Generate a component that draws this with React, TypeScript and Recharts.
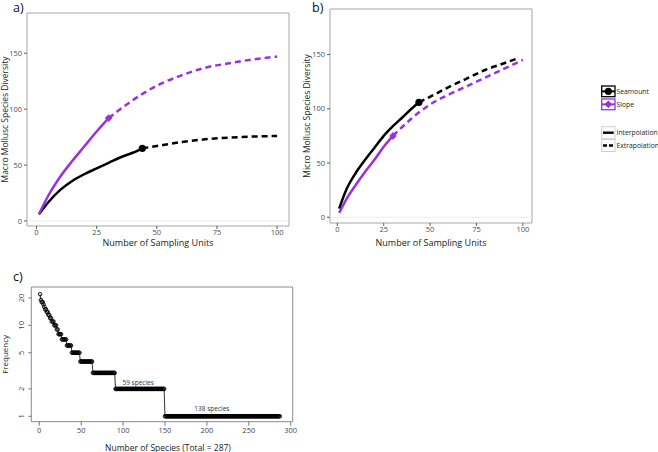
import React from "react";
import {
  ComposedChart,
  Line,
  Scatter,
  XAxis,
  YAxis,
  ReferenceArea,
  ReferenceLine,
  ReferenceDot,
  Label,
  Legend,
} from "recharts";

const FONT = "'Open Sans', 'DejaVu Sans', sans-serif";
const BLACK = "#000000";
const PURPLE = "#9a32dc";

// ---- Panel a: macro molluscs (sampling units, species) ----
const macroSeamountInterp = [[1, 6], [5, 17], [10, 28], [15, 36], [20, 42], [25, 47], [30, 52], [35, 57], [40, 61], [44, 65]];
const macroSeamountExtrap = [[44, 65], [50, 67], [60, 70.5], [70, 73], [80, 74.5], [90, 75.5], [100, 76]];
const macroSlopeInterp = [[1, 6], [5, 23], [10, 40], [15, 54], [20, 67], [25, 80], [30, 92]];
const macroSlopeExtrap = [[30, 92], [40, 108], [50, 121], [60, 130], [70, 137], [80, 141], [90, 144.5], [100, 147]];

// ---- Panel b: micro molluscs ----
const microSeamountInterp = [[1, 8], [5, 26], [10, 41], [15, 53], [20, 64], [25, 75], [30, 84], [35, 92], [40, 100], [44, 106]];
const microSeamountExtrap = [[44, 106], [50, 111], [60, 120], [70, 128], [80, 136], [90, 142], [98, 147]];
const microSlopeInterp = [[1, 4], [5, 17], [10, 30], [15, 42], [20, 53], [25, 65], [30, 75]];
const microSlopeExtrap = [[30, 75], [40, 91], [50, 104], [60, 113], [70, 121], [80, 129], [90, 137], [100, 145]];

const samplingTicks = [0, 25, 50, 75, 100];
const diversityTicks = [0, 50, 100, 150];
const legendSites = ["Seamount", "Slope"];
const legendMethods = ["Interpolation", "Extrapolation"];

// ---- Panel c: rank-frequency ----
const topRankFrequencies = [22, 19, 18, 18, 17, 16, 15, 15, 14, 14, 13, 13, 12, 12, 11, 11, 11, 10, 10, 10, 9, 9];
const stepFrequencies = [8, 7, 6, 5, 4, 3, 2, 1];
const stepSpeciesCounts = [4, 6, 6, 10, 15, 27, 59, 138];
const speciesTicks = [0, 50, 100, 150, 200, 250, 300];
const frequencyTicks = [1, 2, 5, 10, 20];
const noteLabels = ["59 species", "138 species"];
const noteSpecies = [118, 206];
const noteFrequency = [2, 1];

const toPts = (arr: number[][]) => arr.map(([x, y]) => ({ x, y }));
const lastPt = (arr: number[][]) => toPts([arr[arr.length - 1]]);

const rankData = [
  ...topRankFrequencies,
  ...stepFrequencies.flatMap((f, i) => Array(stepSpeciesCounts[i]).fill(f)),
].map((freq, i) => ({ rank: i + 1, freq }));

const CircleMarker = (p: any) => <circle cx={p.cx} cy={p.cy} r={3.6} fill={BLACK} />;
const DiamondMarker = (p: any) => {
  const s = 3.8;
  return (
    <polygon
      points={`${p.cx},${p.cy - s} ${p.cx + s},${p.cy} ${p.cx},${p.cy + s} ${p.cx - s},${p.cy}`}
      fill={PURPLE}
    />
  );
};

function CurveLegend() {
  const colors = [BLACK, PURPLE];
  return (
    <svg width={60} height={72} style={{ display: "block", overflow: "visible", fontFamily: FONT }}>
      {legendSites.map((name, i) => {
        const y0 = 2 + i * 13;
        return (
          <g key={name}>
            <rect x={3.7} y={y0} width={13.3} height={10.7} fill="#ffffff" stroke={colors[i]} strokeWidth={1.3} />
            <line x1={3.7} x2={17} y1={y0 + 5.35} y2={y0 + 5.35} stroke={colors[i]} strokeWidth={2} />
            {i === 0 ? (
              <CircleMarker cx={10.35} cy={y0 + 5.35} />
            ) : (
              <DiamondMarker cx={10.35} cy={y0 + 5.35} />
            )}
            <text x={18.5} y={y0 + 5.35} dy="0.35em" fontSize={6.8} fill="#222">
              {name}
            </text>
          </g>
        );
      })}
      {legendMethods.map((name, i) => {
        const y0 = 42.7 + i * 12.8;
        return (
          <g key={name}>
            <rect x={3.7} y={y0} width={13.3} height={12} fill="#ffffff" stroke="#d0d0d0" strokeWidth={1} />
            <line
              x1={5}
              x2={15.7}
              y1={y0 + 6}
              y2={y0 + 6}
              stroke={BLACK}
              strokeWidth={2.4}
              strokeDasharray={i === 1 ? "4 2" : undefined}
            />
            <text x={18.5} y={y0 + 6} dy="0.35em" fontSize={6.8} fill="#222">
              {name}
            </text>
          </g>
        );
      })}
    </svg>
  );
}

type CurveProps = {
  seamountInterp: number[][];
  seamountExtrap: number[][];
  slopeInterp: number[][];
  slopeExtrap: number[][];
  yDomain: [number, number];
  yLabel: string;
  width: number;
  height: number;
  top: number;
  right: number;
  yAxisWidth: number;
  xLabelOffset: number;
  withLegend?: boolean;
};

const X_DOMAIN: [number, number] = [-3.95, 104.95];

function CurvePanel(p: CurveProps) {
  const tickStyle = { fontSize: 7.5, fill: "#4d4d4d", fontFamily: FONT };
  return (
    <ComposedChart width={p.width} height={p.height} margin={{ top: p.top, right: p.right, bottom: 0, left: 0 }}>
      <XAxis
        type="number"
        dataKey="x"
        domain={X_DOMAIN}
        allowDataOverflow
        ticks={samplingTicks}
        axisLine={false}
        tickLine={{ stroke: "#333", strokeWidth: 0.8 }}
        tickSize={3}
        tickMargin={1}
        tick={tickStyle}
        height={34}
      >
        <Label
          value="Number of Sampling Units"
          position="insideBottom"
          offset={p.xLabelOffset}
          style={{ fontSize: 9, fill: "#222", fontFamily: FONT }}
        />
      </XAxis>
      <YAxis
        type="number"
        dataKey="y"
        domain={p.yDomain}
        allowDataOverflow
        ticks={diversityTicks}
        axisLine={false}
        tickLine={{ stroke: "#333", strokeWidth: 0.8 }}
        tickSize={3}
        tickMargin={2}
        tick={tickStyle}
        width={p.yAxisWidth}
      >
        <Label
          value={p.yLabel}
          angle={-90}
          position="insideLeft"
          offset={5}
          style={{ fontSize: 8.5, fill: "#222", fontFamily: FONT, textAnchor: "middle" }}
        />
      </YAxis>
      <ReferenceLine y={0} stroke="#ececec" strokeWidth={1} />
      <ReferenceArea
        x1={X_DOMAIN[0]}
        x2={X_DOMAIN[1]}
        y1={p.yDomain[0]}
        y2={p.yDomain[1]}
        fill="none"
        stroke="#a6a6a6"
        strokeWidth={1}
      />
      <Line data={toPts(p.seamountExtrap)} dataKey="y" type="monotone" stroke={BLACK} strokeWidth={2.5} strokeDasharray="6 4" dot={false} isAnimationActive={false} />
      <Line data={toPts(p.slopeExtrap)} dataKey="y" type="monotone" stroke={PURPLE} strokeWidth={2.5} strokeDasharray="6 4" dot={false} isAnimationActive={false} />
      <Line data={toPts(p.seamountInterp)} dataKey="y" type="monotone" stroke={BLACK} strokeWidth={2.5} dot={false} isAnimationActive={false} />
      <Line data={toPts(p.slopeInterp)} dataKey="y" type="monotone" stroke={PURPLE} strokeWidth={2.5} dot={false} isAnimationActive={false} />
      <Scatter data={lastPt(p.seamountInterp)} dataKey="y" shape={CircleMarker} isAnimationActive={false} />
      <Scatter data={lastPt(p.slopeInterp)} dataKey="y" shape={DiamondMarker} isAnimationActive={false} />
      {p.withLegend ? (
        <Legend
          layout="horizontal"
          verticalAlign="middle"
          align="right"
          content={() => <CurveLegend />}
          wrapperStyle={{ left: 296, right: "auto", top: 84, width: 60, height: 72 }}
        />
      ) : null}
    </ComposedChart>
  );
}

const C_X_DOMAIN: [number, number] = [-9.5, 302.4];
const C_Y_DOMAIN: [number, number] = [0.872, 26.4];

const RotatedTick = (props: any) => {
  const { x, y, payload } = props;
  return (
    <text
      x={x}
      y={y}
      transform={`rotate(-90, ${x}, ${y})`}
      textAnchor="middle"
      fontSize={7.5}
      fill="#444"
      fontFamily={FONT}
    >
      {payload.value}
    </text>
  );
};

function RankPanel() {
  return (
    <ComposedChart width={300} height={182} margin={{ top: 17, right: 7.3, bottom: 0, left: 0 }} data={rankData}>
      <XAxis
        type="number"
        dataKey="rank"
        domain={C_X_DOMAIN}
        allowDataOverflow
        ticks={speciesTicks}
        axisLine={false}
        tickLine={{ stroke: "#555", strokeWidth: 0.8 }}
        tickSize={4}
        tickMargin={2}
        tick={{ fontSize: 7.5, fill: "#444", fontFamily: FONT }}
        height={30.3}
      >
        <Label
          value="Number of Species (Total = 287)"
          position="insideBottom"
          offset={1.5}
          dx={6}
          style={{ fontSize: 8.5, fill: "#222", fontFamily: FONT }}
        />
      </XAxis>
      <YAxis
        type="number"
        dataKey="freq"
        scale="log"
        domain={C_Y_DOMAIN}
        allowDataOverflow
        ticks={frequencyTicks}
        axisLine={false}
        tickLine={{ stroke: "#555", strokeWidth: 0.8 }}
        tickSize={3}
        tickMargin={4}
        tick={<RotatedTick />}
        width={31.3}
      >
        <Label
          value="Frequency"
          angle={-90}
          position="insideLeft"
          offset={5}
          style={{ fontSize: 8, fill: "#222", fontFamily: FONT, textAnchor: "middle" }}
        />
      </YAxis>
      <ReferenceArea
        x1={C_X_DOMAIN[0]}
        x2={C_X_DOMAIN[1]}
        y1={C_Y_DOMAIN[0]}
        y2={C_Y_DOMAIN[1]}
        fill="none"
        stroke="#8a8a8a"
        strokeWidth={1}
      />
      <Line
        dataKey="freq"
        type="linear"
        stroke={BLACK}
        strokeWidth={0.8}
        dot={{ r: 1.8, fill: "none", stroke: BLACK, strokeWidth: 0.9 }}
        isAnimationActive={false}
      />
      {noteLabels.map((label, i) => (
        <ReferenceDot key={label} x={noteSpecies[i]} y={noteFrequency[i]} r={0} fill="none" stroke="none">
          <Label value={label} position="top" offset={i === 0 ? 4 : 5.5} style={{ fontSize: 6.5, fill: "#333", fontFamily: FONT }} />
        </ReferenceDot>
      ))}
    </ComposedChart>
  );
}

const letterStyle: React.CSSProperties = {
  position: "absolute",
  fontFamily: FONT,
  fontSize: 12.5,
  lineHeight: "14px",
  color: "#111",
};

export default function App() {
  return (
    <div
      style={{
        position: "absolute",
        left: 0,
        top: 0,
        width: 658,
        height: 452,
        background: "#ffffff",
        overflow: "hidden",
        fontFamily: FONT,
      }}
    >
      <div style={{ position: "absolute", left: 0, top: 0 }}>
        <CurvePanel
          seamountInterp={macroSeamountInterp}
          seamountExtrap={macroSeamountExtrap}
          slopeInterp={macroSlopeInterp}
          slopeExtrap={macroSlopeExtrap}
          yDomain={[-4.5, 186]}
          yLabel="Macro Mollusc Species Diversity"
          width={300}
          height={260}
          top={13}
          right={11}
          yAxisWidth={27}
          xLabelOffset={14}
        />
      </div>
      <div style={{ position: "absolute", left: 302, top: 0 }}>
        <CurvePanel
          seamountInterp={microSeamountInterp}
          seamountExtrap={microSeamountExtrap}
          slopeInterp={microSlopeInterp}
          slopeExtrap={microSlopeExtrap}
          yDomain={[-5.3, 192]}
          yLabel="Micro Mollusc Species Diversity"
          width={300}
          height={257}
          top={9}
          right={10}
          yAxisWidth={28}
          xLabelOffset={11}
          withLegend
        />
      </div>
      <div style={{ position: "absolute", left: 0, top: 270 }}>
        <RankPanel />
      </div>
      <div style={{ ...letterStyle, left: 13, top: 1 }}>a)</div>
      <div style={{ ...letterStyle, left: 312, top: 1 }}>b)</div>
      <div style={{ ...letterStyle, left: 13, top: 270 }}>c)</div>
    </div>
  );
}
